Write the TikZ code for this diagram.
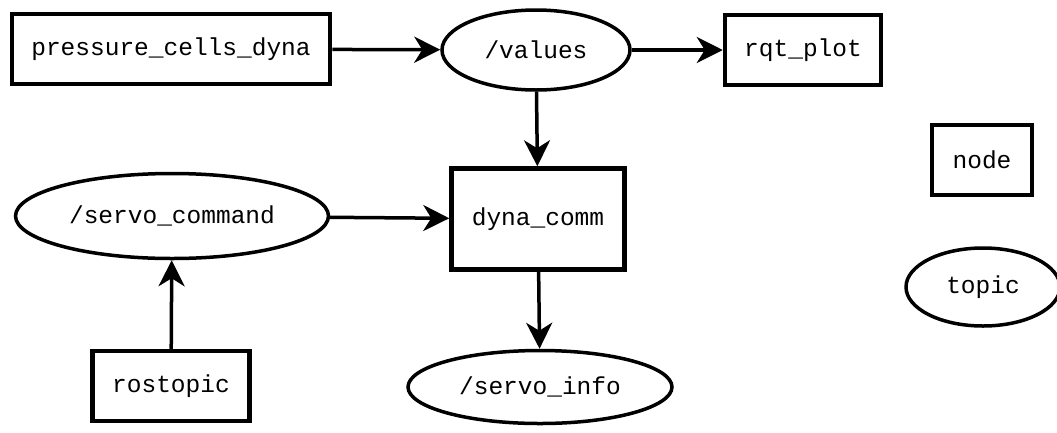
\documentclass[tikz,border=0pt]{standalone}
\usepackage{fontspec}
\setmonofont{Liberation Mono}
\usetikzlibrary{shapes.geometric,arrows.meta}

\tikzset{
  nodebox/.style={draw, line width=4.5pt, rectangle, inner sep=0pt,
    font=\ttfamily\fontsize{24.5}{28}\selectfont},
  topicell/.style={draw, line width=3.5pt, ellipse, inner sep=0pt,
    font=\ttfamily\fontsize{24.5}{28}\selectfont},
  link/.style={line width=3.5pt, -{Stealth[length=26pt, width=26pt, inset=8pt]}},
}

\begin{document}
\begin{tikzpicture}[x=1pt, y=-1pt]
  \useasboundingbox (0,0) rectangle (1057,432);

  % ROS nodes
  \node[nodebox, minimum width=318pt, minimum height=70pt] (pcd) at (171,49) {pressure\_cells\_dyna};
  \node[nodebox, minimum width=156pt, minimum height=70pt] (rqt) at (803,50) {rqt\_plot};
  \node[nodebox, minimum width=173pt, minimum height=101pt] (dyna) at (538,219) {dyna\_comm};
  \node[nodebox, minimum width=157pt, minimum height=70pt] (ros) at (171,386) {rostopic};

  % topics
  \node[topicell, minimum width=188pt, minimum height=80pt] (vals) at (536,50) {/values};
  \node[topicell, minimum width=313pt, minimum height=85pt] (cmd) at (172,216) {/servo\_command};
  \node[topicell, minimum width=264pt, minimum height=73pt] (info) at (540,387) {/servo\_info};

  % legend
  \node[nodebox, minimum width=100pt, minimum height=70pt] (lnode) at (982,160) {node};
  \node[topicell, minimum width=154pt, minimum height=78pt] (ltopic) at (983,287) {topic};

  % message flow
  \draw[link] (pcd) -- (vals);
  \draw[link] (vals) -- (rqt);
  \draw[link] (vals) -- (dyna);
  \draw[link] (cmd) -- (dyna);
  \draw[link] (ros) -- (cmd);
  \draw[link] (dyna) -- (info);
\end{tikzpicture}
\end{document}
